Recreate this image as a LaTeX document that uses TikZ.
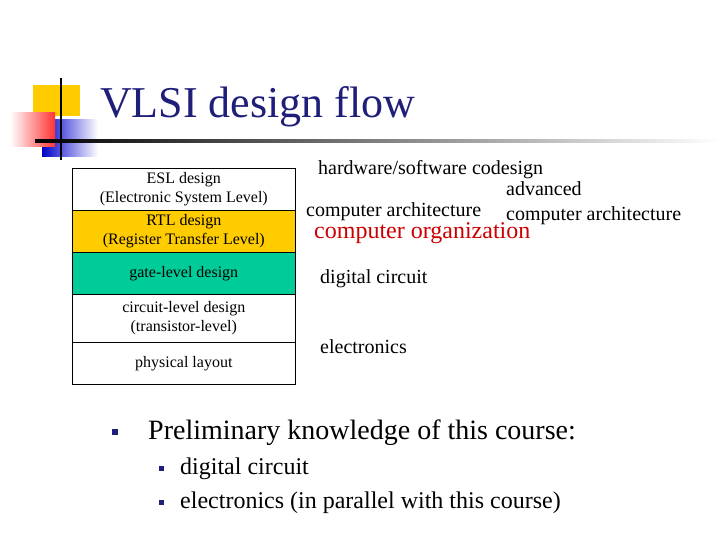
\documentclass[tikz,border=0pt]{standalone}
\usepackage{fontspec}
\setmainfont{Liberation Serif}
\definecolor{ylw}{HTML}{FFCC00}
\definecolor{grn}{HTML}{00CC99}
\definecolor{navy}{HTML}{1F1F7A}
\begin{document}
\begin{tikzpicture}[x=1pt,y=-1pt,
 row/.style={draw=black,line width=0.6pt,minimum width=223pt,anchor=north west,inner sep=0pt,align=center,font=\fontsize{16}{19}\selectfont},
 rt/.style={anchor=base west,inner sep=0pt,font=\fontsize{20}{23}\selectfont},
 bul/.style={fill=navy,minimum size=6pt,inner sep=0pt}]
\useasboundingbox[fill=white] (0,0) rectangle (720,540);
\fill[ylw] (33,85) rectangle (80,116);
\shade[left color=blue!80!black,right color=white] (42,120) rectangle (98,157);
\shade[left color=white,right color=red!80] (10,113) rectangle (55,147);
\shade[left color=black,right color=white] (35,140) rectangle (720,142.5);
\draw[line width=2.5pt] (61,78) -- (61,160);
\node[anchor=base west,inner sep=0pt,text=navy,font=\fontsize{44}{50}\selectfont] (title) at (100,118) {VLSI design flow};
\node[row,minimum height=42pt] (esl) at (72,168) {ESL design\\(Electronic System Level)};
\node[row,minimum height=42pt,fill=ylw] (rtl) at (72,210) {RTL design\\(Register Transfer Level)};
\node[row,minimum height=42pt,fill=grn] (gate) at (72,252) {gate-level design};
\node[row,minimum height=48pt] (ckt) at (72,294) {circuit-level design\\(transistor-level)};
\node[row,minimum height=42pt] (phys) at (72,342) {physical layout};
\node[rt] (hw) at (318,175) {hardware/software codesign};
\node[rt] (adv) at (506,196) {advanced};
\node[rt] (ca) at (306,216) {computer architecture};
\node[rt] (aca) at (506,221) {computer architecture};
\node[rt,text=red!80!black,font=\fontsize{24}{28}\selectfont] (co) at (314,239) {computer organization};
\node[rt] (dc) at (320,283) {digital circuit};
\node[rt] (el) at (320,353) {electronics};
\node[bul] (b1) at (115,432) {};
\node[anchor=base west,inner sep=0pt,font=\fontsize{28}{32}\selectfont] (pk) at (148,439) {Preliminary knowledge of this course:};
\node[bul,minimum size=5pt] (b2) at (161,468) {};
\node[anchor=base west,inner sep=0pt,font=\fontsize{24}{28}\selectfont] (s1) at (180,474) {digital circuit};
\node[bul,minimum size=5pt] (b3) at (161,502) {};
\node[anchor=base west,inner sep=0pt,font=\fontsize{24}{28}\selectfont] (s2) at (180,508) {electronics (in parallel with this course)};
\end{tikzpicture}
\end{document}
